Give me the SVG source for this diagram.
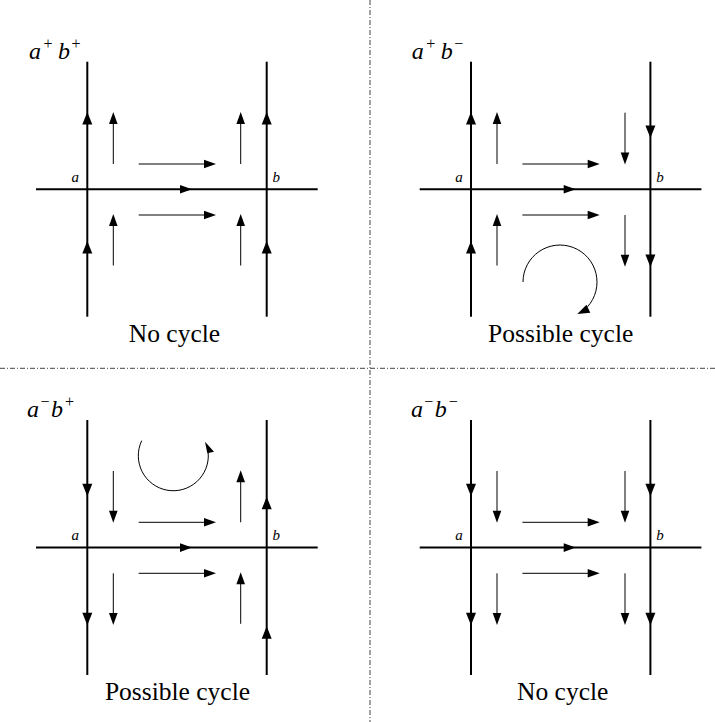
<svg xmlns="http://www.w3.org/2000/svg" width="715" height="722" viewBox="0 0 715 722">
<style>
.m{stroke:#000;stroke-width:2;fill:none}
.s{stroke:#000;stroke-width:1;fill:none}
.dd{stroke:#444;stroke-width:1;stroke-dasharray:5 2 1 2;fill:none}
.hd{fill:#000}
text{font-family:'Times New Roman','Liberation Serif','DejaVu Serif','Noto Serif','Tinos',Times,serif}
.i{font-style:italic}
.big{font-size:24px}
.sup{font-size:16px}
.lab{font-size:15px;font-style:italic}
.cap{font-size:25.5px;text-anchor:middle}
</style>
<defs>
<path id="H" class="hd" d="M0,0 L-5,12.5 L5,12.5 Z"/>
<path id="S" class="hd" d="M0,0 L-4.3,12 L4.3,12 Z"/>
<g id="base">
<line class="m" x1="87.3" y1="61.7" x2="87.3" y2="316.7"/>
<line class="m" x1="266.7" y1="61.7" x2="266.7" y2="316.7"/>
<line class="m" x1="36" y1="189.3" x2="317.7" y2="189.3"/>
<use href="#S" transform="translate(192,189.3) rotate(90)"/>
<line class="s" x1="138.7" y1="164" x2="206" y2="164"/>
<use href="#S" transform="translate(216,164) rotate(90)"/>
<line class="s" x1="138.7" y1="215" x2="206" y2="215"/>
<use href="#S" transform="translate(216,215) rotate(90)"/>
<text class="lab" x="71.5" y="182">a</text>
<text class="lab" x="272.5" y="182">b</text>
</g>
<g id="aUp">
<use href="#H" transform="translate(87.3,112)"/>
<use href="#H" transform="translate(87.3,241)"/>
<line class="s" x1="113.3" y1="164" x2="113.3" y2="120"/>
<use href="#S" transform="translate(113.3,112)"/>
<line class="s" x1="113.3" y1="265.5" x2="113.3" y2="222"/>
<use href="#S" transform="translate(113.3,214)"/>
</g>
<g id="aDown">
<use href="#H" transform="translate(87.3,138) rotate(180)"/>
<use href="#H" transform="translate(87.3,267) rotate(180)"/>
<line class="s" x1="113.3" y1="112.7" x2="113.3" y2="156"/>
<use href="#S" transform="translate(113.3,164.5) rotate(180)"/>
<line class="s" x1="113.3" y1="215" x2="113.3" y2="258"/>
<use href="#S" transform="translate(113.3,266.7) rotate(180)"/>
</g>
<g id="bSmallUp">
<line class="s" x1="240.7" y1="164" x2="240.7" y2="120"/>
<use href="#S" transform="translate(240.7,112)"/>
<line class="s" x1="240.7" y1="265.5" x2="240.7" y2="222"/>
<use href="#S" transform="translate(240.7,214)"/>
</g>
<g id="bDown">
<use href="#H" transform="translate(266.7,138) rotate(180)"/>
<use href="#H" transform="translate(266.7,267) rotate(180)"/>
<line class="s" x1="241.3" y1="112.7" x2="241.3" y2="156"/>
<use href="#S" transform="translate(241.3,164.5) rotate(180)"/>
<line class="s" x1="241.3" y1="215" x2="241.3" y2="258"/>
<use href="#S" transform="translate(241.3,266.7) rotate(180)"/>
</g>
</defs>

<g id="separators">
<line class="dd" x1="370" y1="0" x2="370" y2="722"/>
<line class="dd" x1="0" y1="368.3" x2="715" y2="368.3"/>
</g>

<g fill="#000">
<g id="q-apbp">
<use href="#base"/>
<use href="#aUp"/>
<use href="#bSmallUp"/>
<use href="#H" transform="translate(266.7,112)"/>
<use href="#H" transform="translate(266.7,241)"/>
<text y="58.5"><tspan class="i big" x="29">a</tspan><tspan class="sup" x="43.5" y="48.5">+</tspan><tspan class="i big" x="58" y="58.5">b</tspan><tspan class="sup" x="71.5" y="48.5">+</tspan></text>
<text class="cap" x="174.5" y="341.7">No cycle</text>
</g>

<g id="q-apbm" transform="translate(383.7,0)">
<use href="#base"/>
<use href="#aUp"/>
<use href="#bDown"/>
<path class="s" d="M139.3,282 A37,37 0 1 1 203.8,306.8"/>
<polygon class="hd" points="193.6,314 202.8,304.8 206.6,312.8"/>
<text y="58.5"><tspan class="i big" x="28">a</tspan><tspan class="sup" x="42.5" y="48.5">+</tspan><tspan class="i big" x="57" y="58.5">b</tspan><tspan class="sup" x="70.5" y="48.5">−</tspan></text>
<text class="cap" x="177" y="341.7">Possible cycle</text>
</g>

<g id="q-ambp" transform="translate(0,358.3)">
<use href="#base"/>
<use href="#aDown"/>
<use href="#bSmallUp"/>
<use href="#H" transform="translate(266.7,138.5)"/>
<use href="#H" transform="translate(266.7,268)"/>
<path class="s" d="M141.7,82.4 A35,35 0 1 0 208.2,94.7"/>
<polygon class="hd" points="205,83.4 207.3,95 214,93.4"/>
<text y="58.5"><tspan class="i big" x="27">a</tspan><tspan class="sup" x="40.5" y="48.5">−</tspan><tspan class="i big" x="51" y="58.5">b</tspan><tspan class="sup" x="65" y="48.5">+</tspan></text>
<text class="cap" x="177.5" y="341.7">Possible cycle</text>
</g>

<g id="q-ambm" transform="translate(383.7,358.3)">
<use href="#base"/>
<use href="#aDown"/>
<use href="#bDown"/>
<text y="58.5"><tspan class="i big" x="27.3">a</tspan><tspan class="sup" x="40.5" y="48.5">−</tspan><tspan class="i big" x="51" y="58.5">b</tspan><tspan class="sup" x="65" y="48.5">−</tspan></text>
<text class="cap" x="179" y="341.7">No cycle</text>
</g>
</g>
</svg>
